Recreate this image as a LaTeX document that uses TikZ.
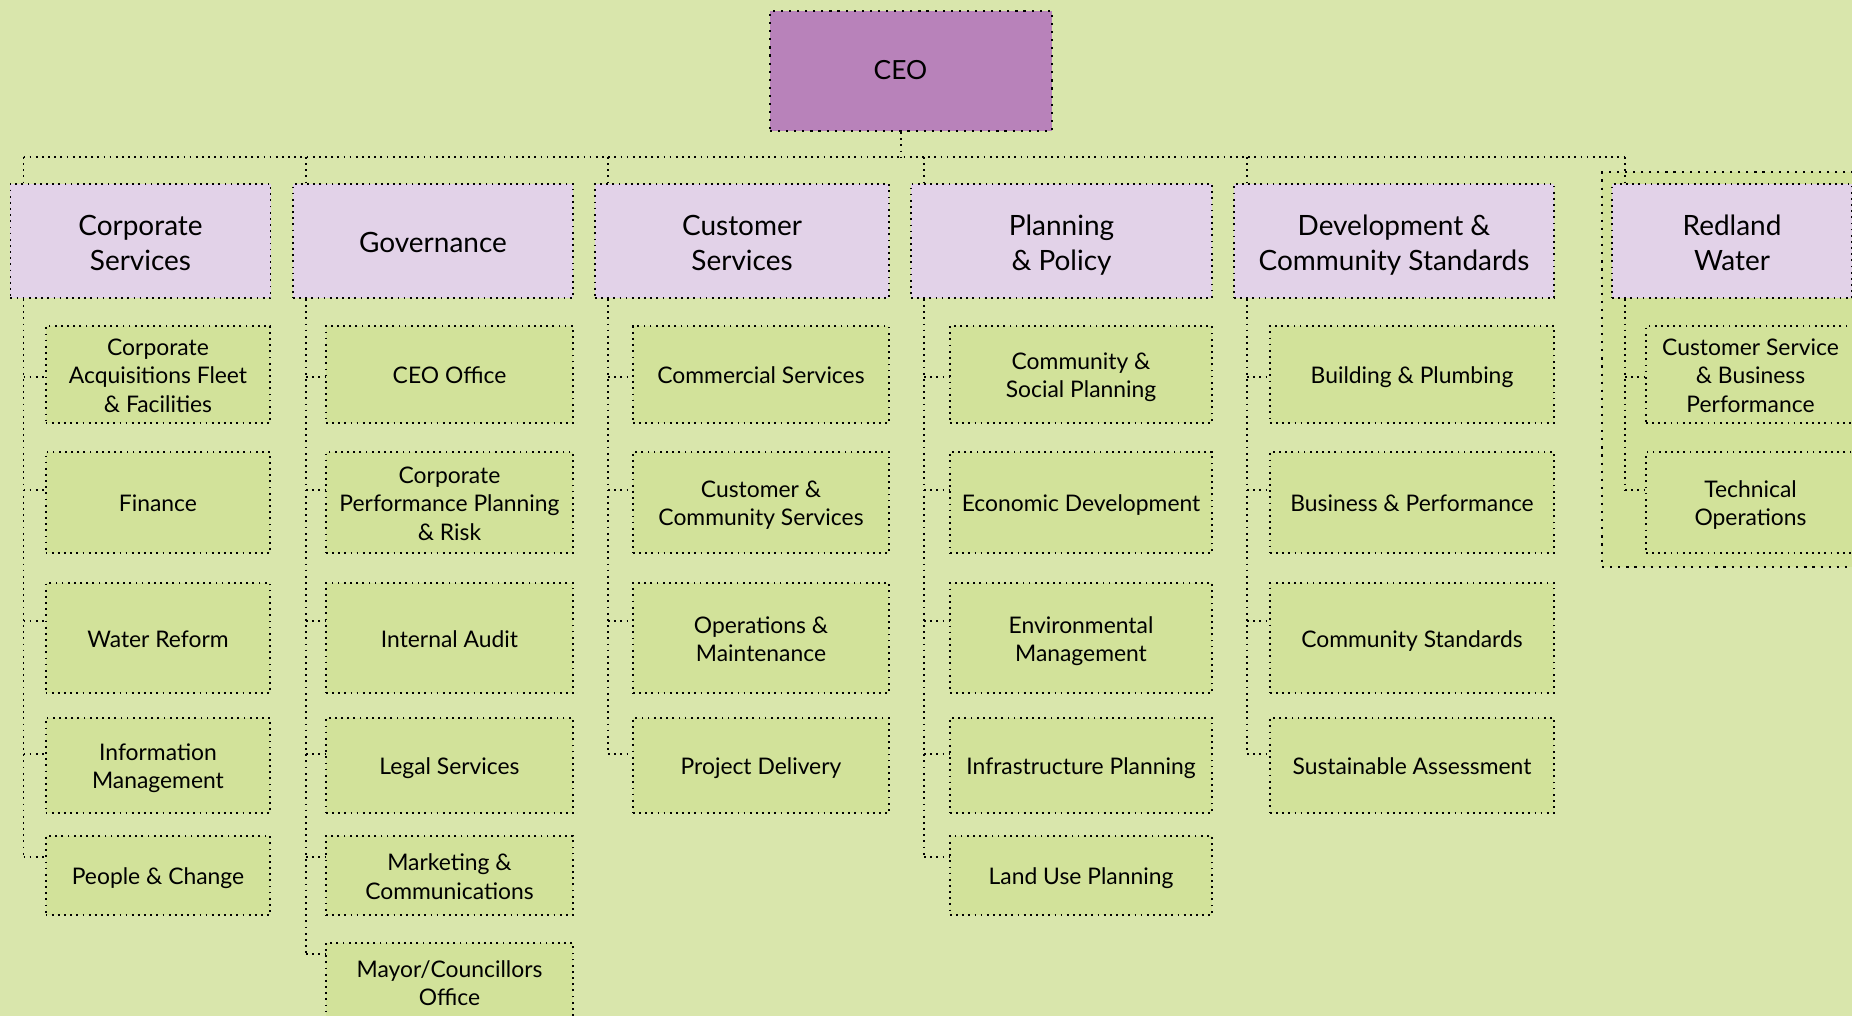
\documentclass[tikz,border=0pt]{standalone}
\usepackage{fontspec}
\setmainfont{Lato}
\usetikzlibrary{calc}
\definecolor{bg}{HTML}{D9E6AC}
\definecolor{unit}{HTML}{D2E29A}
\definecolor{dept}{HTML}{E2D2E8}
\definecolor{chief}{HTML}{B882BA}
% same first-line height and last-line depth in every box
\newcommand\boxstrut{\rule[-0.17\baselineskip]{0pt}{\baselineskip}}
\newcommand\boxtext[1]{\boxstrut#1\boxstrut}
\tikzset{
  box/.style={draw=black,line width=0.5pt,dash pattern=on 0.5pt off 1.25pt,align=center,inner sep=0pt},
  bigbox/.style={box,line width=0.62pt,dash pattern=on 0.62pt off 1.68pt},
  chiefbox/.style={bigbox,fill=chief,font=\fontsize{7.5}{7}\selectfont},
  deptbox/.style={box,fill=dept,minimum height=1.14cm,font=\fontsize{7.95}{9.96}\selectfont},
  unitbox/.style={box,fill=unit,font=\fontsize{6.5}{8.05}\selectfont},
  link/.style={line width=0.5pt,dash pattern=on 0.5pt off 1.25pt},
  row1/.style={minimum height=0.97cm},
  row2/.style={minimum height=1.01cm},
  row3/.style={minimum height=1.10cm},
  row4/.style={minimum height=0.95cm},
  row5/.style={minimum height=0.79cm},
  row6/.style={minimum height=0.78cm},
}
\begin{document}
\begin{tikzpicture}[x=0.01cm,y=-0.01cm]
\clip (0,0) rectangle (1852,1016);
\fill[bg] (0,0) rectangle (1852,1016);

% row centres and the heights where the side links join
\foreach \r/\y/\s in {1/374.5/377,2/502.5/490,3/638/621,4/765.5/754,5/875.5/857,6/982/954}{
  \coordinate (r\r) at (0,\y);
  \coordinate (s\r) at (0,\s);
}
% column centres
\foreach \k/\x in {1/158,2/449.5,3/761,4/1081,5/1412,6/1750.5}
  \coordinate (k\k) at (\x,0);

% frame round the water business
\node[bigbox,fill=unit,anchor=north west,minimum width=3cm,minimum height=3.95cm] (rwframe) at (1601,171) {};

\node[chiefbox,minimum width=2.82cm,minimum height=1.2cm] (ceo) at (911,71) {\boxtext{CEO\hspace*{6pt}}};

% departments
\node[deptbox,minimum width=2.6cm]  (cs)   at (140.5,241)  {\boxtext{Corporate\\Services}};
\node[deptbox,minimum width=2.8cm]  (gov)  at (433,241)    {\boxtext{Governance}};
\node[deptbox,minimum width=2.94cm] (cust) at (742,241)    {\boxtext{Customer\\Services}};
\node[deptbox,minimum width=3.01cm] (plan) at (1061.5,241) {\boxtext{Planning\\\& Policy}};
\node[deptbox,minimum width=3.2cm]  (dev)  at (1394,241)   {\boxtext{Development \&\\Community Standards}};
\node[deptbox,minimum width=2.4cm]  (rw)   at (1732,241)   {\boxtext{Redland\\Water}};

% units
\foreach \r/\t in {1/{Corporate\\Acquisitions Fleet\\\& Facilities},2/Finance,3/Water Reform,
    4/{Information\\Management},5/People \& Change}
  \node[unitbox,row\r,minimum width=2.245cm] (cs\r) at (k1 |- r\r) {\boxtext{\t}};
\foreach \r/\t in {1/CEO Office,2/{Corporate\\Performance Planning\\\& Risk},3/Internal Audit,
    4/Legal Services,5/{Marketing \&\\Communications},6/{Mayor/Councillors\\Office}}
  \node[unitbox,row\r,minimum width=2.47cm] (gov\r) at (k2 |- r\r) {\boxtext{\t}};
\foreach \r/\t in {1/Commercial Services,2/{Customer \&\\Community Services},
    3/{Operations \&\\Maintenance},4/Project Delivery}
  \node[unitbox,row\r,minimum width=2.56cm] (cust\r) at (k3 |- r\r) {\boxtext{\t}};
\foreach \r/\t in {1/{Community \&\\Social Planning},2/Economic Development,
    3/{Environmental\\Management},4/Infrastructure Planning,5/Land Use Planning}
  \node[unitbox,row\r,minimum width=2.62cm] (plan\r) at (k4 |- r\r) {\boxtext{\t}};
\foreach \r/\t in {1/Building \& Plumbing,2/Business \& Performance,
    3/Community Standards,4/Sustainable Assessment}
  \node[unitbox,row\r,minimum width=2.84cm] (dev\r) at (k5 |- r\r) {\boxtext{\t}};
\foreach \r/\t in {1/{Customer Service\\\& Business\\Performance},2/{Technical\\Operations}}
  \node[unitbox,row\r,minimum width=2.09cm] (rw\r) at (k6 |- r\r) {\boxtext{\t}};

% links
\coordinate (bus) at (901,157);
\foreach \d/\n in {cs/5,gov/6,cust/4,plan/5,dev/4,rw/2}{
  \coordinate (\d-x) at ($(\d.south west)+(14,0)$);
  \draw[link] (bus -| \d-x) -- (\d.north -| \d-x);
  \draw[link] (\d-x) -- (\d-x |- s\n);
  \foreach \r in {1,...,\n}
    \draw[link] (\d-x |- s\r) -- (\d\r.west |- s\r);
}
\draw[link] (ceo.south -| bus) -- (bus);
\draw[link] (bus -| cs-x) -- (bus -| rw-x);
\end{tikzpicture}
\end{document}
